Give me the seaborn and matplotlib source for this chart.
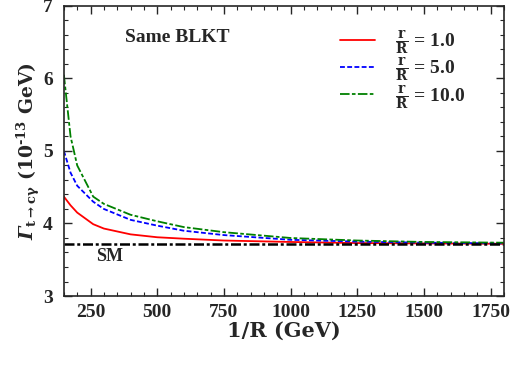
import numpy as np
import pandas as pd
import seaborn as sns
import matplotlib.pyplot as plt
from matplotlib.ticker import MultipleLocator

# 1/R (GeV) and decay widths (10^-13 GeV)
inv_r = [150, 175, 200, 260, 300, 400, 500, 600, 750, 1000, 1250, 1500, 1800]
red_1 = [4.37, 4.25, 4.15, 3.99, 3.93, 3.85, 3.81, 3.79, 3.765, 3.745, 3.73, 3.725, 3.72]
blue_5 = [5.0, 4.7, 4.52, 4.3, 4.2, 4.05, 3.97, 3.9, 3.84, 3.775, 3.75, 3.735, 3.725]
green_10 = [6.05, 5.2, 4.8, 4.37, 4.27, 4.12, 4.03, 3.95, 3.88, 3.8, 3.765, 3.745, 3.735]
sm_value = 3.715
labels = [r'$\frac{\rm r}{\rm R}$ = 1.0', r'$\frac{\rm r}{\rm R}$ = 5.0', r'$\frac{\rm r}{\rm R}$ = 10.0']

sns.set_style('ticks')
plt.rcParams['font.family'] = ['Liberation Serif', 'DejaVu Serif']
plt.rcParams['font.weight'] = 'bold'
plt.rcParams['mathtext.fontset'] = 'custom'
plt.rcParams['mathtext.rm'] = 'DejaVu Serif:bold'
plt.rcParams['mathtext.bf'] = 'DejaVu Serif:bold'
plt.rcParams['mathtext.it'] = 'DejaVu Serif:italic:bold'
plt.rcParams['mathtext.sf'] = 'DejaVu Serif:italic'  # used for the slanted Gamma
plt.rcParams['mathtext.default'] = 'bf'

fig = plt.figure(figsize=(5.11, 3.65), dpi=100)
ax = fig.add_axes([0.125, 0.189, 0.861, 0.795])

series = [(red_1, 'red', '-'), (blue_5, 'blue', (0, (2.7, 1.3))),
          (green_10, 'green', (0, (5.3, 1.3, 2, 1.3)))]
for (vals, col, ls), lab in zip(series, labels):
    df = pd.DataFrame({'x': inv_r, 'y': vals})
    sns.lineplot(data=df, x='x', y='y', color=col, linestyle=ls, lw=1.3, label=lab, ax=ax)

ax.axhline(sm_value, color='black', lw=1.8, linestyle=(0, (4, 1.1, 1.2, 1.1)))
ax.text(322, 3.54, 'SM', fontsize=13, fontweight='bold', ha='center', va='center')
ax.text(574, 6.56, 'Same BLKT', fontsize=14, fontweight='bold', ha='center', va='center')

ax.set_xlim(150, 1800)
ax.set_ylim(3, 7)
ax.xaxis.set_major_locator(MultipleLocator(250))
ax.xaxis.set_minor_locator(MultipleLocator(50))
ax.yaxis.set_major_locator(MultipleLocator(1))
ax.yaxis.set_minor_locator(MultipleLocator(0.2))
ax.tick_params(which='both', direction='in', top=True, right=True, labelsize=14)
ax.tick_params(axis='x', pad=6)
ax.tick_params(axis='y', pad=8)
ax.tick_params(which='major', length=6, width=1)
ax.tick_params(which='minor', length=3, width=0.8)
for lab in ax.get_xticklabels() + ax.get_yticklabels():
    lab.set_fontweight('bold')
for sp in ax.spines.values():
    sp.set_linewidth(1.2)

ax.set_xlabel('1/R (GeV)', fontsize=15, fontweight='bold', family='DejaVu Serif')
ax.set_ylabel(r'$\mathsf{\Gamma}_{\rm t\to c\gamma}$ (10$^{\text{-13}}$ GeV)', fontsize=13.5,
              fontweight='bold', family='DejaVu Serif')
ax.xaxis.set_label_coords(0.5, -0.085)
ax.yaxis.set_label_coords(-0.05, 0.5)

ax.legend(loc='upper left', frameon=False, fontsize=14, handlelength=1.8, handletextpad=1.0,
          bbox_to_anchor=(0.611, 0.95), borderaxespad=0, labelspacing=-0.08)

fig.savefig('out.png', dpi=100)
